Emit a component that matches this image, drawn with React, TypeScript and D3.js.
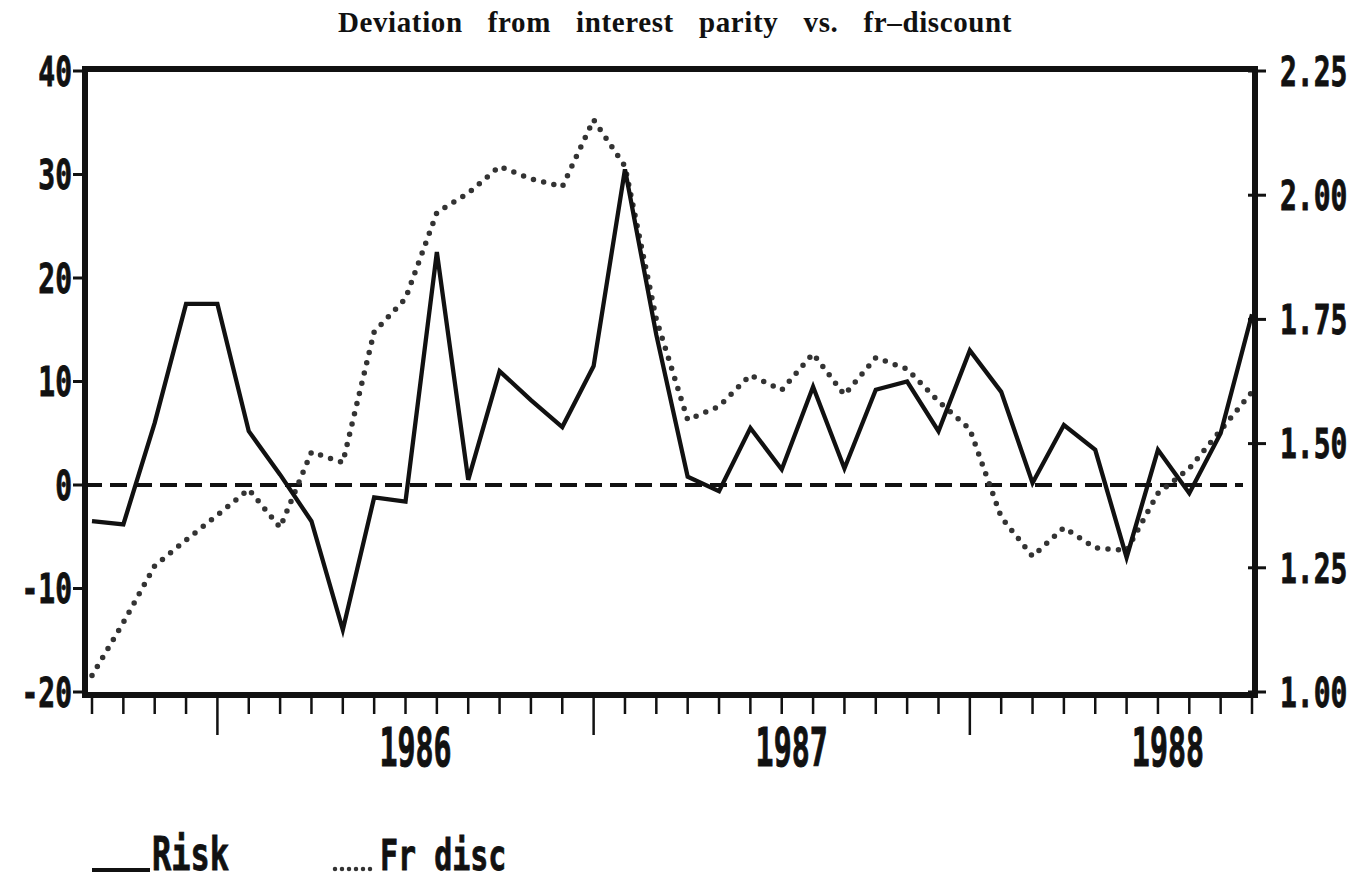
import React, { useLayoutEffect, useRef } from "react";
import * as d3 from "d3";

// ---- data (monthly, Sep 1985 .. Oct 1988) ----
const months: string[] = [
  "1985-09","1985-10","1985-11","1985-12",
  "1986-01","1986-02","1986-03","1986-04","1986-05","1986-06","1986-07","1986-08","1986-09","1986-10","1986-11","1986-12",
  "1987-01","1987-02","1987-03","1987-04","1987-05","1987-06","1987-07","1987-08","1987-09","1987-10","1987-11","1987-12",
  "1988-01","1988-02","1988-03","1988-04","1988-05","1988-06","1988-07","1988-08","1988-09","1988-10",
];

const riskValues: number[] = [
  -3.5, -3.8, 6, 17.5,
  17.5, 5.2, 1.0, -3.5, -14, -1.2, -1.6, 22.5, 0.5, 11, 8.2, 5.6,
  11.5, 30.5, 14.5, 0.8, -0.6, 5.5, 1.5, 9.5, 1.6, 9.2, 10, 5.2,
  13, 9, 0.2, 5.8, 3.4, -7, 3.4, -0.8, 5, 16.5,
];

const frDiscValues: number[] = [
  1.033, 1.14, 1.254, 1.306,
  1.356, 1.408, 1.331, 1.483, 1.462, 1.725, 1.792, 1.965, 2.004, 2.058, 2.033, 2.017,
  2.152, 2.058, 1.75, 1.548, 1.575, 1.638, 1.608, 1.681, 1.598, 1.673, 1.65, 1.585,
  1.529, 1.352, 1.273, 1.331, 1.29, 1.285, 1.40, 1.45, 1.527, 1.604,
];

const leftTicks: number[] = [-20, -10, 0, 10, 20, 30, 40];
const leftTickLabels: string[] = ["-20", "-10", "0", "10", "20", "30", "40"];
const rightTicks: number[] = [1.0, 1.25, 1.5, 1.75, 2.0, 2.25];
const rightTickLabels: string[] = ["1.00", "1.25", "1.50", "1.75", "2.00", "2.25"];
const yearLabels: string[] = ["1986", "1987", "1988"];
const referenceValue = 0;

const title = "Deviation from interest parity vs. fr\u2013discount";
const legendRisk = "Risk";
const legendFr = "Fr disc";

const W = 1370;
const H = 879;
const frame = { left: 85, right: 1255, top: 69, bottom: 695 };
const plotTop = 71;
const plotBottom = 692;
const MONO = "'DejaVu Sans Mono', monospace";
const TITLE_X0 = 338;
const TITLE_W = 674;

export default function App() {
  const titleRef = useRef<SVGTextElement>(null);

  useLayoutEffect(() => {
    const el = titleRef.current;
    if (!el) return;
    el.setAttribute("word-spacing", "0");
    const natural = el.getComputedTextLength();
    const spaces = (title.match(/ /g) || []).length;
    const ws = (TITLE_W - natural) / spaces;
    el.setAttribute("word-spacing", String(ws));
  }, []);

  const x = d3.scalePoint<string>().domain(months).range([92, 1252]);
  const yL = d3.scaleLinear().domain([-20, 40]).range([plotBottom, plotTop]);
  const yR = d3.scaleLinear().domain([1.0, 2.25]).range([plotBottom, plotTop]);

  const riskLine = d3
    .line<number>()
    .x((_, i) => x(months[i]) as number)
    .y((d) => yL(d));
  const frLine = d3
    .line<number>()
    .x((_, i) => x(months[i]) as number)
    .y((d) => yR(d));

  const tickLabel = (
    key: string,
    tx: number,
    ty: number,
    text: string,
    anchor: "start" | "end" | "middle",
    size: number,
    sy: number
  ) => (
    <text
      key={key}
      transform={`translate(${tx},${ty}) scale(1,${sy})`}
      textAnchor={anchor}
      fontFamily={MONO}
      fontWeight="bold"
      fontSize={size}
      fill="#111"
      stroke="#111"
      strokeWidth={0.6}
    >
      {text}
    </text>
  );

  const capL = 0.729 * 28 * 1.45;

  return (
    <svg
      width={W}
      height={H}
      viewBox={`0 0 ${W} ${H}`}
      style={{ position: "absolute", left: 0, top: 0, background: "#fff" }}
    >
      <rect x={0} y={0} width={W} height={H} fill="#fff" />
      {/* title */}
      <text
        ref={titleRef}
        x={TITLE_X0}
        y={32}
        fontFamily="'Liberation Serif', 'DejaVu Serif', serif"
        fontWeight="bold"
        fontSize={29}
        letterSpacing={0.6}
        fill="#111"
      >
        {title}
      </text>

      {/* reference dashed line */}
      <line
        x1={frame.left}
        x2={1243}
        y1={yL(referenceValue)}
        y2={yL(referenceValue)}
        stroke="#111"
        strokeWidth={4}
        strokeDasharray="17 8"
      />

      {/* Fr disc dotted */}
      <path
        d={frLine(frDiscValues) || ""}
        fill="none"
        stroke="#333"
        strokeWidth={5.5}
        strokeDasharray="0 10.5"
        strokeLinecap="round"
      />
      {/* Risk solid */}
      <path
        d={riskLine(riskValues) || ""}
        fill="none"
        stroke="#111"
        strokeWidth={4.3}
        strokeLinejoin="miter"
      />

      {/* frame */}
      <rect
        x={frame.left}
        y={frame.top}
        width={frame.right - frame.left}
        height={frame.bottom - frame.top}
        fill="none"
        stroke="#111"
        strokeWidth={6}
      />

      {/* left ticks + labels */}
      {leftTicks.map((v, i) => (
        <g key={`lt${i}`}>
          <line x1={frame.left} x2={73} y1={yL(v)} y2={yL(v)} stroke="#111" strokeWidth={3} />
          {tickLabel(`ll${i}`, 72, yL(v) + capL / 2, leftTickLabels[i], "end", 28, 1.45)}
        </g>
      ))}

      {/* right ticks + labels */}
      {rightTicks.map((v, i) => (
        <g key={`rt${i}`}>
          <line x1={1248} x2={1266} y1={yR(v)} y2={yR(v)} stroke="#111" strokeWidth={3} />
          {tickLabel(`rl${i}`, 1280, yR(v) + capL / 2, rightTickLabels[i], "start", 28, 1.45)}
        </g>
      ))}

      {/* bottom month ticks */}
      {months.map((m) => {
        const isJan = m.endsWith("-01");
        return (
          <line
            key={`bt${m}`}
            x1={x(m) as number}
            x2={x(m) as number}
            y1={frame.bottom}
            y2={isJan ? 735 : 714}
            stroke="#111"
            strokeWidth={2.5}
          />
        );
      })}

      {/* year labels, centred near mid-year */}
      {yearLabels.map((yr) => {
        const cx = (x(`${yr}-07`) as number) + 10;
        return tickLabel(`yl${yr}`, cx, 766, yr, "middle", 30, 1.8);
      })}

      {/* legend */}
      <line x1={92} x2={150} y1={870} y2={870} stroke="#111" strokeWidth={4} />
      {tickLabel("legR", 152, 870, legendRisk, "start", 32, 1.45)}
      <line
        x1={335}
        x2={377}
        y1={869}
        y2={869}
        stroke="#333"
        strokeWidth={4.5}
        strokeDasharray="0 7"
        strokeLinecap="round"
      />
      {tickLabel("legF", 380, 870, legendFr, "start", 30, 1.45)}
    </svg>
  );
}
